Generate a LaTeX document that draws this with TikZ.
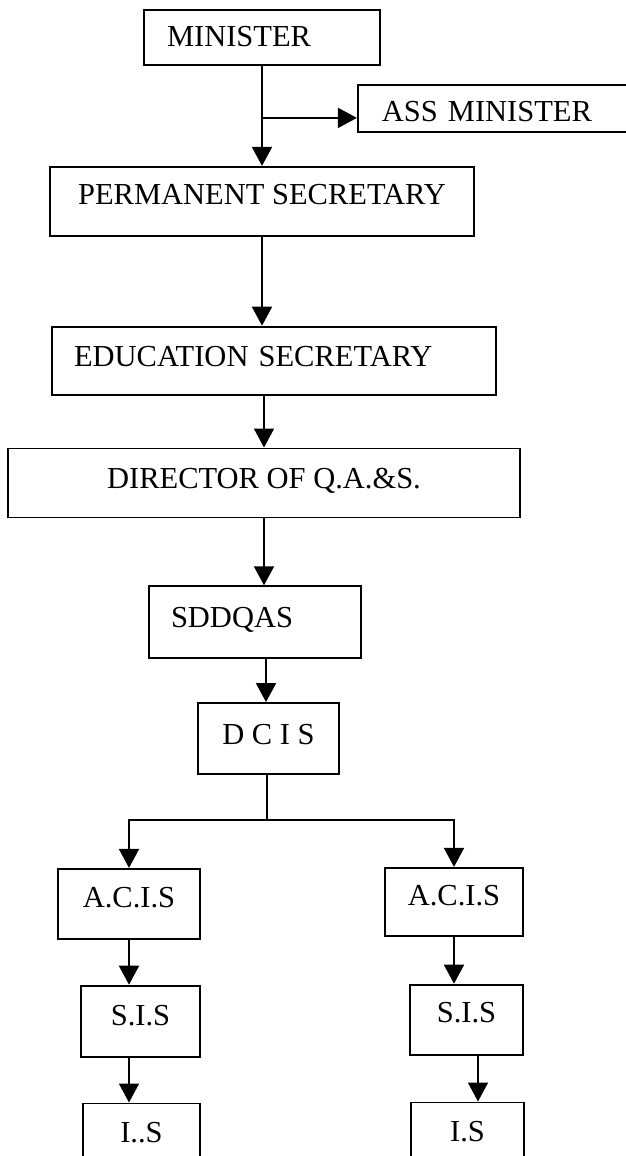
\documentclass[tikz,border=0pt]{standalone}
\usepackage{fontspec}
\setmainfont{Liberation Serif}
\usetikzlibrary{positioning, arrows.meta}

\begin{document}
\begin{tikzpicture}[->,>={Triangle[length=19pt,width=20pt]},line width=1.8pt,
    box/.style={draw,rectangle,line width=1.8pt,inner sep=0pt,text height=39pt,text depth=31pt,font=\fontsize{30.5}{36}\selectfont},
    left box/.style={box,align=left,inner xsep=22pt}]

\useasboundingbox (0,0) rectangle (626pt,-1156pt);

\node[left box, minimum width=236pt, text width=190pt, inner xsep=23pt, text height=37pt, text depth=18pt] (min) at (262pt,-37.5pt) {MINISTER};
\node[left box, text width=224pt, inner xsep=24pt, text height=37pt, text depth=10pt, anchor=north west] (ass) at ([xshift=-24pt,yshift=-18pt]min.south east) {ASS MINISTER};
\node[box, minimum width=424pt, text height=38pt]          (ps)   [below=100pt of min]                 {PERMANENT SECRETARY};
\node[left box, text width=400pt, text height=40pt, text depth=28pt] (es) [below=89pt of ps, xshift=12pt] {EDUCATION SECRETARY};
\node[box, minimum width=512pt, text height=40pt, text depth=29pt] (dir) [below=52pt of es, xshift=-10pt] {DIRECTOR OF Q.A.\&S.};
\node[left box, text width=168pt, text height=41pt]        (sdd)  [below=67pt of dir, xshift=-9pt]     {SDDQAS};
\node[box, minimum width=141pt, text height=41pt, text depth=30pt] (dcis) [below=43pt of sdd, xshift=13.5pt] {D C I S};
\node[box, minimum width=142pt]                            (acisL) [below=93pt of dcis, xshift=-139.5pt] {A.C.I.S};
\node[box, minimum width=138pt, text height=38pt, text depth=30pt] (acisR) [below=92pt of dcis, xshift=185.5pt] {A.C.I.S};
\node[box, minimum width=119pt, text height=40pt]          (sisL) [below=45pt of acisL, xshift=11.5pt]  {S.I.S};
\node[box, minimum width=113pt, text height=38pt, text depth=32pt] (sisR) [below=47pt of acisR, xshift=12.5pt] {S.I.S};
\node[box, minimum width=117pt, text depth=51pt]           (isL)  [below=45pt of sisL, xshift=1pt]      {I..S};
\node[box, minimum width=113pt, text depth=52pt]           (isR)  [below=46pt of sisR, xshift=1pt]      {I.S};

\coordinate (fork) at ([yshift=-52pt]min.south);
\coordinate (split) at ([xshift=-1.5pt,yshift=-45pt]dcis.south);

\draw (min.south) -- (ps.north);
\draw (fork) -- (fork -| ass.west);
\draw (ps.south) -- (ps.south |- es.north);
\draw (es.south -| dir.north) -- (dir.north);
\draw (dir.south) -- (dir.south |- sdd.north);
\draw ([xshift=-2.5pt]dcis.north |- sdd.south) -- ([xshift=-2.5pt]dcis.north);
\draw ([xshift=-1.5pt]dcis.south) -- (split) -| (acisL.north);
\draw ([xshift=-1.5pt]dcis.south) -- (split) -| (acisR.north);
\draw (acisL.south) -- (acisL.south |- sisL.north);
\draw (acisL.south |- sisL.south) -- (acisL.south |- isL.north);
\draw (acisR.south) -- (acisR.south |- sisR.north);
\draw ([xshift=10.5pt]isR.north |- sisR.south) -- ([xshift=10.5pt]isR.north);
\end{tikzpicture}
\end{document}
